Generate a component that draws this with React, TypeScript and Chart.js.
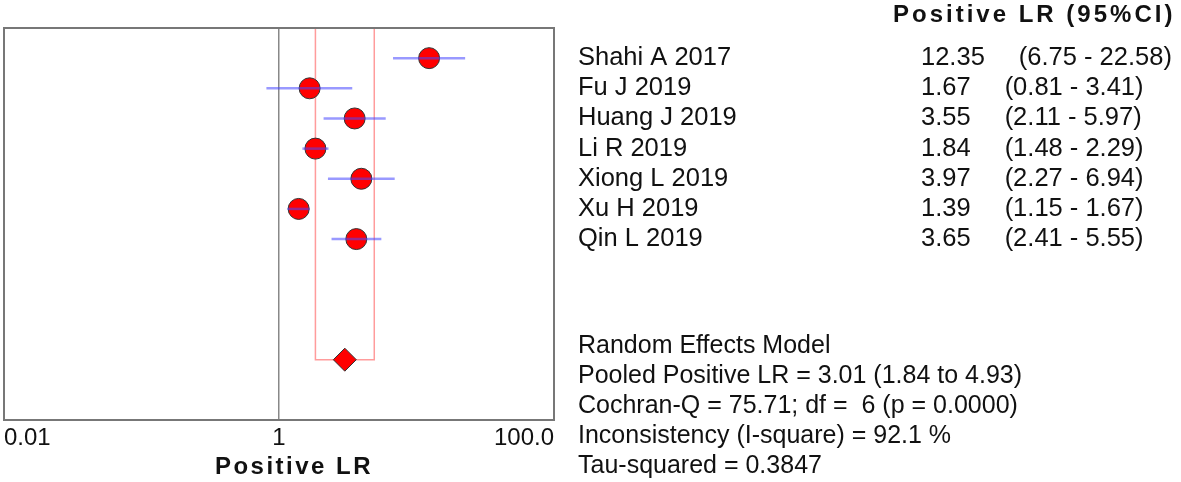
import React, { useEffect, useRef } from 'react';
import { Chart, registerables } from 'chart.js';

Chart.register(...registerables);

const studies = ['Shahi A 2017', 'Fu J 2019', 'Huang J 2019', 'Li R 2019', 'Xiong L 2019', 'Xu H 2019', 'Qin L 2019'];
const lrValues = [12.35, 1.67, 3.55, 1.84, 3.97, 1.39, 3.65];
const ciLow = [6.75, 0.81, 2.11, 1.48, 2.27, 1.15, 2.41];
const ciHigh = [22.58, 3.41, 5.97, 2.29, 6.94, 1.67, 5.55];
const pooledValue = 3.01;
const pooledLow = 1.84;
const pooledHigh = 4.93;
const pooledRow = 10;
const xTicks = [0.01, 1, 100];
const xTickLabels = ['0.01', '1', '100.0'];
const headerText = 'Positive LR (95%CI)';
const axisTitle = 'Positive LR';
const summaryLines = [
  'Random Effects Model',
  'Pooled Positive LR = 3.01 (1.84 to 4.93)',
  'Cochran-Q = 75.71; df =  6 (p = 0.0000)',
  'Inconsistency (I-square) = 92.1 %',
  'Tau-squared = 0.3847',
];

const FONT = '"Liberation Sans", Arial, sans-serif';
const FS = 25.5;

const textPlugin = {
  id: 'forestText',
  afterDraw(chart: any) {
    const ctx = chart.ctx;
    const ca = chart.chartArea;
    const y = chart.scales.y;
    ctx.save();
    // frame
    ctx.strokeStyle = '#777';
    ctx.lineWidth = 2;
    ctx.strokeRect(ca.left, ca.top, ca.right - ca.left, ca.bottom - ca.top);
    ctx.fillStyle = '#111';
    ctx.textBaseline = 'middle';
    // axis title
    ctx.textAlign = 'center';
    ctx.font = `bold 24px ${FONT}`;
    (ctx as any).letterSpacing = '2.5px';
    ctx.fillText(axisTitle, (ca.left + ca.right) / 2 + 15, 467);
    // header
    ctx.textAlign = 'left';
    (ctx as any).letterSpacing = '3px';
    ctx.fillText(headerText, 893, 15);
    (ctx as any).letterSpacing = '0px';
    ctx.font = `${FS}px ${FONT}`;
    studies.forEach((s, i) => {
      const py = y.getPixelForValue(i);
      ctx.fillText(s, 578, py);
      const v = lrValues[i].toFixed(2);
      ctx.fillText(v, 921, py);
      const w = ctx.measureText(v).width;
      ctx.fillText(`(${ciLow[i].toFixed(2)} - ${ciHigh[i].toFixed(2)})`, 921 + w + 34, py);
    });
    ctx.font = `25px ${FONT}`;
    summaryLines.forEach((t, k) => {
      ctx.fillText(t, 578, y.getPixelForValue(9.5 + k) + 1);
    });
    ctx.restore();
  },
};

export default function App() {
  const ref = useRef<HTMLCanvasElement | null>(null);
  useEffect(() => {
    if (!ref.current) return;
    const ciSets = studies.map((s, i) => ({
      label: s + ' CI',
      data: [{ x: ciLow[i], y: i }, { x: ciHigh[i], y: i }],
      showLine: true,
      borderColor: 'rgba(70,70,255,0.55)',
      borderWidth: 2.5,
      pointRadius: 0,
      fill: false,
    }));
    const chart = new Chart(ref.current, {
      type: 'scatter',
      data: {
        datasets: [
          ...ciSets,
          {
            label: 'studies',
            data: lrValues.map((v, i) => ({ x: v, y: i })),
            pointRadius: 10.5,
            pointBackgroundColor: '#ff0000',
            pointBorderColor: '#333',
            pointBorderWidth: 1,
          },
          {
            label: 'pooled',
            data: [{ x: pooledValue, y: pooledRow }],
            pointStyle: 'rectRot',
            pointRadius: 11.5,
            pointBackgroundColor: '#ff0000',
            pointBorderColor: '#333',
            pointBorderWidth: 1,
          },
          {
            label: 'pooled CI',
            data: [
              { x: pooledLow, y: -1 },
              { x: pooledLow, y: pooledRow },
              { x: pooledHigh, y: pooledRow },
              { x: pooledHigh, y: -1 },
            ],
            showLine: true,
            borderColor: 'rgba(255,90,90,0.6)',
            borderWidth: 1.5,
            pointRadius: 0,
            fill: false,
          },
        ],
      } as any,
      options: {
        responsive: false,
        animation: false,
        events: [],
        layout: { autoPadding: false, padding: { left: 4, right: 627, top: 28, bottom: 26 } },
        plugins: { legend: { display: false }, tooltip: { enabled: false } },
        scales: {
          x: {
            type: 'logarithmic',
            min: 0.01,
            max: 100,
            afterBuildTicks: (s: any) => {
              s.ticks = xTicks.map((v) => ({ value: v }));
            },
            afterFit: (s: any) => {
              s.paddingLeft = 0;
              s.paddingRight = 0;
            },
            ticks: {
              callback: (_v: any, i: number) => xTickLabels[i],
              align: 'inner',
              autoSkip: false,
              maxRotation: 0,
              padding: 3.6,
              color: '#111',
              font: { family: FONT, size: 24 },
            },
            grid: {
              drawTicks: false,
              lineWidth: 1.5,
              color: (c: any) => (c.tick && c.tick.value === 1 ? '#888' : 'rgba(0,0,0,0)'),
            },
            border: { display: false },
            title: { display: false },
          },
          y: { type: 'linear', min: -1, max: 12, reverse: true, display: false },
        },
      } as any,
      plugins: [textPlugin],
    });
    return () => chart.destroy();
  }, []);
  return (
    <div style={{ position: 'fixed', left: 0, top: 0, width: 1181, height: 482, background: '#fff' }}>
      <canvas ref={ref} width={1181} height={482} style={{ display: 'block' }} />
    </div>
  );
}
